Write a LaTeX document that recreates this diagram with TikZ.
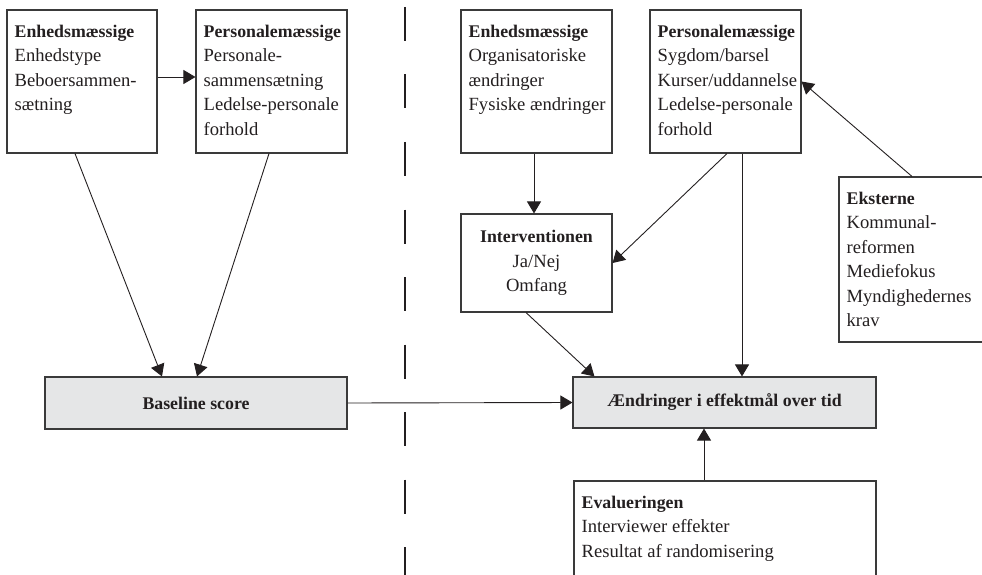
\documentclass[tikz,border=0pt]{standalone}
\usepackage{fontspec}
\setmainfont{Liberation Serif}
\usetikzlibrary{arrows.meta,calc}
\definecolor{linec}{HTML}{3A3A3A}
\definecolor{textc}{HTML}{231F20}
\definecolor{fillg}{HTML}{E5E6E7}
\newcommand{\hd}[1]{{\fontsize{17.8}{24.5}\selectfont\textbf{#1}}}
\tikzset{
  box/.style={draw=linec, line width=1.1pt, inner sep=0pt, rectangle},
  graybox/.style={box, fill=fillg},
  txt/.style={inner sep=0pt, align=left, anchor=north west, text=textc,
    font=\fontsize{18.6}{24.5}\selectfont},
  ctxt/.style={inner sep=0pt, align=center, text=textc,
    font=\fontsize{18.6}{24.5}\selectfont},
  arr/.style={draw=textc, line width=0.9pt, -{Triangle[length=12pt,width=14pt]}},
  divider/.style={draw=textc, line width=2pt, dash pattern=on 34pt off 33.5pt}
}
\begin{document}
\begin{tikzpicture}[x=1pt,y=-1pt]
\useasboundingbox (0,0) rectangle (982,575);
% boxes
\node[box, minimum width=150pt, minimum height=143pt] (b1) at (82,81.5) {};
\node[box, minimum width=151pt, minimum height=143pt] (b2) at (271.5,81.5) {};
\node[box, minimum width=151pt, minimum height=143pt] (b3) at (536.5,81.5) {};
\node[box, minimum width=151pt, minimum height=143pt] (b4) at (725.5,81.5) {};
\node[box, minimum width=151pt, minimum height=165pt] (ext) at (914.5,259.5) {};
\node[box, minimum width=151pt, minimum height=98pt] (int) at (536.5,263) {};
\node[graybox, minimum width=302pt, minimum height=52pt] (base) at (196,403) {};
\node[graybox, minimum width=303pt, minimum height=51pt] (aend) at (724.5,402.5) {};
\node[box, minimum width=302pt, minimum height=130pt] (eval) at (725,546) {};
% texts
\node[txt] (t1) at ($(b1.north west)+(8,15)$) {\hd{Enhedsmæssige}\\Enhedstype\\Beboersammen-\\sætning};
\node[txt] (t2) at ($(b2.north west)+(8,15)$) {\hd{Personalemæssige}\\Personale-\\sammensætning\\Ledelse-personale\\forhold};
\node[txt] (t3) at ($(b3.north west)+(8,15)$) {\hd{Enhedsmæssige}\\Organisatoriske\\ændringer\\Fysiske ændringer};
\node[txt] (t4) at ($(b4.north west)+(8,15)$) {\hd{Personalemæssige}\\Sygdom/barsel\\Kurser/uddannelse\\Ledelse-personale\\forhold};
\node[txt] (t5) at ($(ext.north west)+(8,15)$) {\hd{Eksterne}\\Kommunal-\\reformen\\Mediefokus\\Myndighedernes\\krav};
\node[ctxt] (t6) at (int.center) {\hd{Interventionen}\\Ja/Nej\\Omfang};
\node[ctxt] (t7) at (base.center) {\hd{Baseline score}};
\node[ctxt] (t8) at (aend.center) {\hd{Ændringer i effektmål over tid}};
\node[txt] (t9) at ($(eval.north west)+(8,15)$) {\hd{Evalueringen}\\Interviewer effekter\\Resultat af randomisering};
% divider
\coordinate (dtop) at (405,7);
\coordinate (dbot) at (405,600);
\draw[divider] (dtop) -- (dbot);
% connectors
\draw[arr] ($(b1.east)+(0,-4.5)$) -- ($(b2.west)+(0,-4.5)$);
\draw[arr] ($(b1.south)+(-7,0)$) -- ($(base.north)+(-34,0)$);
\draw[arr] ($(b2.south)+(-2.5,0)$) -- ($(base.north)+(1,0)$);
\draw[arr] ($(b3.south)+(-2.5,0)$) -- ($(int.north)+(-2.5,0)$);
\draw[arr] ($(b4.south)+(1.5,0)$) -- (int.east);
\draw[arr] ($(b4.south)+(16.5,0)$) -- ($(aend.north)+(17.5,0)$);
\draw[arr] ($(int.south)+(-10.5,0)$) -- ($(aend.north west)+(22,0)$);
\draw[arr] ($(ext.north)+(-2.5,0)$) -- (b4.east);
\draw[arr] (base.east) -- (aend.west);
\draw[arr] ($(eval.north)+(-21,0)$) -- ($(aend.south)+(-20.5,0)$);
\end{tikzpicture}
\end{document}
